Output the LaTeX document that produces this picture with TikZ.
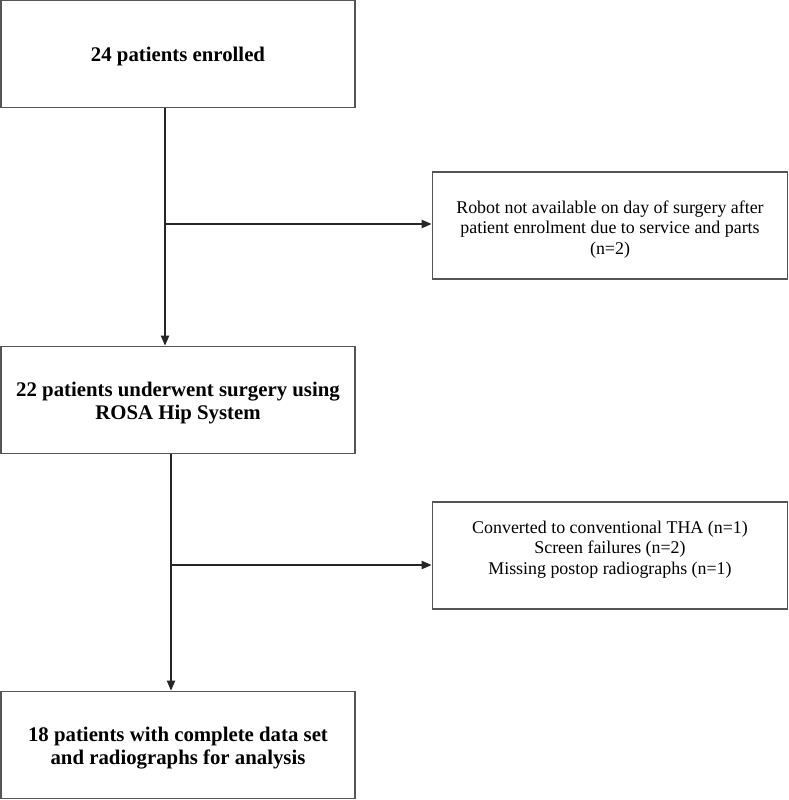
\documentclass[tikz,border=0pt]{standalone}
\usepackage{fontspec}
\setmainfont{Liberation Serif}
\usepackage{xcolor}
\usepackage{tikz}
\usetikzlibrary{positioning, calc, arrows.meta}

\definecolor{boxgray}{HTML}{555555}

\begin{document}
\begin{tikzpicture}[x=1pt, y=-1pt,
    mainbox/.style={draw=boxgray, line width=1.6pt, minimum width=354pt, minimum height=107pt,
      align=center, font=\fontsize{20.8}{23}\selectfont\bfseries, inner sep=0pt,
      text height=73pt, text depth=34pt},
    sidebox/.style={draw=boxgray, line width=1.6pt, minimum width=355pt, minimum height=107pt,
      align=center, font=\fontsize{17.9}{20.5}\selectfont, inner sep=0pt,
      text height=82pt, text depth=25pt},
    flow/.style={line width=2pt, black!85, -{Triangle[length=10pt, width=8pt]}}]
        \useasboundingbox (0,0) rectangle (788,800);

        % Main column
        \node[mainbox, text height=61pt, text depth=46pt] (enrolled) at (178,54) {24 patients enrolled};
        \node[mainbox] (surgery) at (178,400) {22 patients underwent surgery using\\ROSA Hip System};
        \node[mainbox] (analysis) at (178,745) {18 patients with complete data set\\and radiographs for analysis};

        % Exclusion boxes
        \node[sidebox] (robot) at (610,225.5) {Robot not available on day of surgery after\\patient enrolment due to service and parts\\(n=2)};
        \node[sidebox, text height=72pt, text depth=35pt] (excluded) at (610,555.5) {Converted to conventional THA (n=1)\\Screen failures (n=2)\\Missing postop radiographs (n=1)};

        % Branch points
        \coordinate (split1) at (165,224);
        \coordinate (split2) at (171,565);

        % Connectors
        \draw[flow] (split1 |- enrolled.south) -- (split1 |- surgery.north);
        \draw[flow] (split1) -- (split1 -| robot.west);
        \draw[flow] (split2 |- surgery.south) -- (split2 |- analysis.north);
        \draw[flow] (split2) -- (split2 -| excluded.west);
      \end{tikzpicture}
\end{document}
